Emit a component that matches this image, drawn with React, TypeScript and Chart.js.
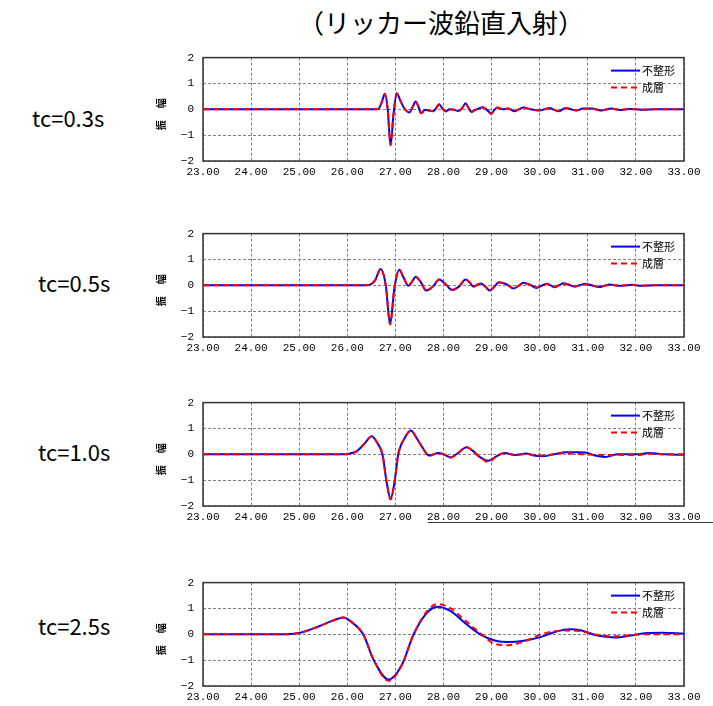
import React, { useEffect, useRef } from "react";
import { Chart, registerables } from "chart.js";

Chart.register(...registerables);

// ---------- text ----------
const TITLE = "（リッカー波鉛直入射）";
const SERIES_NAMES = ["不整形", "成層"];
const Y_AXIS_TITLE = ["振", "幅"];
const X_TICKS = [23, 24, 25, 26, 27, 28, 29, 30, 31, 32, 33];
const Y_TICKS = [-2, -1, 0, 1, 2];
const CASE_LABELS = ["tc=0.3s", "tc=0.5s", "tc=1.0s", "tc=2.5s"];

// ---------- tc = 0.3 s ----------
const tc03Time = [23, 26.55, 26.65, 26.72, 26.78, 26.84, 26.9, 26.96, 27.03, 27.1, 27.18, 27.29, 27.36, 27.42, 27.48, 27.53, 27.62, 27.7, 27.78, 27.85, 27.91, 27.97, 28.04, 28.13, 28.22, 28.31, 28.39, 28.46, 28.52, 28.58, 28.65, 28.72, 28.82, 28.9, 28.99, 29.06, 29.12, 29.23, 29.34, 29.48, 29.57, 29.66, 29.81, 29.99, 30.1, 30.21, 30.3, 30.39, 30.54, 30.65, 30.76, 30.9, 31.09, 31.27, 31.49, 31.67, 31.85, 32.0, 32.15, 32.4, 33];
const tc03Irregular = [0, 0, 0.02, 0.3, 0.6, 0.0, -1.4, -0.2, 0.62, 0.35, 0.05, -0.12, 0.1, 0.3, 0.1, -0.15, -0.02, -0.05, -0.08, 0.05, 0.2, 0.05, -0.08, 0.0, -0.02, -0.07, 0.05, 0.23, 0.05, -0.1, -0.03, 0.02, 0.08, -0.02, -0.15, -0.02, 0.07, 0.0, 0.03, -0.08, 0.0, 0.07, 0.0, -0.05, 0.0, 0.05, -0.02, -0.08, 0.05, 0.0, -0.05, 0.03, 0.03, -0.05, 0.03, -0.03, 0.01, 0.0, -0.02, 0.0, 0];
const tc03Layered = [0, 0, 0.02, 0.3, 0.58, 0.0, -1.38, -0.2, 0.6, 0.35, 0.05, -0.12, 0.1, 0.28, 0.1, -0.15, -0.02, -0.05, -0.08, 0.05, 0.2, 0.05, -0.08, 0.0, -0.02, -0.07, 0.05, 0.22, 0.05, -0.1, -0.03, 0.02, 0.07, -0.02, -0.18, -0.02, 0.06, 0.0, 0.03, -0.06, 0.0, 0.06, 0.0, -0.04, 0.0, 0.04, -0.02, -0.06, 0.04, 0.0, -0.04, 0.02, 0.02, -0.04, 0.02, -0.02, 0.0, 0.0, -0.01, 0.0, 0];

// ---------- tc = 0.5 s ----------
const tc05Time = [23, 26.4, 26.5, 26.58, 26.69, 26.8, 26.89, 26.98, 27.08, 27.17, 27.27, 27.35, 27.42, 27.52, 27.64, 27.78, 27.91, 28.04, 28.18, 28.32, 28.46, 28.55, 28.62, 28.7, 28.77, 28.87, 28.96, 29.06, 29.15, 29.3, 29.45, 29.56, 29.66, 29.8, 29.93, 30.04, 30.15, 30.23, 30.31, 30.4, 30.5, 30.61, 30.72, 30.83, 30.94, 31.08, 31.23, 31.35, 31.45, 31.67, 31.93, 32.1, 32.4, 33];
const tc05Irregular = [0, 0, 0.05, 0.2, 0.63, 0.0, -1.5, -0.1, 0.6, 0.3, -0.02, 0.15, 0.33, 0.15, -0.2, -0.05, 0.22, 0.05, -0.18, -0.05, 0.22, 0.1, -0.05, 0.02, 0.07, -0.05, -0.2, -0.05, 0.12, 0.05, -0.12, -0.02, 0.1, 0.02, -0.1, -0.02, 0.06, 0.0, -0.08, 0.0, 0.08, 0.02, -0.05, 0.0, 0.06, 0.0, -0.07, -0.02, 0.03, -0.02, 0.02, -0.02, 0.0, 0];
const tc05Layered = [0, 0, 0.05, 0.2, 0.63, 0.0, -1.52, -0.1, 0.6, 0.3, -0.02, 0.15, 0.32, 0.15, -0.2, -0.05, 0.22, 0.05, -0.17, -0.05, 0.22, 0.1, -0.05, 0.02, 0.07, -0.05, -0.2, -0.05, 0.11, 0.05, -0.1, -0.02, 0.08, 0.02, -0.08, -0.02, 0.05, 0.0, -0.06, 0.0, 0.05, 0.02, -0.04, 0.0, 0.04, 0.0, -0.05, -0.02, 0.02, -0.01, 0.01, -0.01, 0.0, 0];

// ---------- tc = 1.0 s ----------
const tc10Time = [23, 25.95, 26.1, 26.2, 26.35, 26.51, 26.62, 26.73, 26.82, 26.9, 26.98, 27.06, 27.2, 27.32, 27.45, 27.55, 27.7, 27.8, 27.89, 28.0, 28.15, 28.3, 28.48, 28.6, 28.75, 28.93, 29.1, 29.27, 29.49, 29.72, 29.88, 30.05, 30.3, 30.54, 30.75, 30.95, 31.15, 31.36, 31.63, 32.0, 32.28, 32.6, 33];
const tc10Irregular = [0, 0, 0.05, 0.12, 0.4, 0.7, 0.45, 0.0, -1.1, -1.72, -1.1, 0.0, 0.65, 0.92, 0.6, 0.3, -0.05, 0.0, 0.05, 0.0, -0.12, 0.05, 0.27, 0.15, -0.1, -0.25, -0.08, 0.05, -0.03, 0.03, -0.05, -0.08, 0.0, 0.08, 0.08, 0.07, -0.05, -0.1, 0.0, 0.0, 0.05, 0.0, -0.02];
const tc10Layered = [0, 0, 0.05, 0.12, 0.4, 0.7, 0.45, 0.0, -1.1, -1.75, -1.1, 0.0, 0.65, 0.92, 0.6, 0.3, -0.05, 0.0, 0.05, 0.0, -0.12, 0.05, 0.28, 0.15, -0.1, -0.3, -0.08, 0.05, -0.03, 0.02, -0.03, -0.05, 0.0, 0.05, 0.02, 0.0, -0.02, -0.03, -0.02, -0.03, 0.02, 0.0, 0];

// ---------- tc = 2.5 s ----------
const tc25Time = [23, 24.6, 25.0, 25.4, 25.8, 25.92, 26.07, 26.33, 26.55, 26.86, 27.13, 27.38, 27.64, 27.87, 28.15, 28.47, 28.76, 29.08, 29.35, 29.67, 30.03, 30.33, 30.62, 30.87, 31.2, 31.55, 31.89, 32.22, 32.55, 33];
const tc25Irregular = [0, 0, 0.05, 0.3, 0.6, 0.65, 0.5, 0.0, -1.0, -1.75, -1.2, 0.0, 0.8, 1.07, 0.9, 0.4, 0.0, -0.25, -0.3, -0.25, -0.1, 0.1, 0.2, 0.15, -0.05, -0.12, -0.05, 0.05, 0.06, 0.02];
const tc25Layered = [0, 0, 0.05, 0.3, 0.6, 0.65, 0.5, 0.0, -1.0, -1.8, -1.2, 0.0, 0.85, 1.17, 1.0, 0.5, 0.05, -0.38, -0.42, -0.28, 0.0, 0.12, 0.15, 0.12, -0.03, -0.08, -0.03, 0.0, 0.0, 0.0];

const CASES = [
  { label: CASE_LABELS[0], time: tc03Time, irregular: tc03Irregular, layered: tc03Layered },
  { label: CASE_LABELS[1], time: tc05Time, irregular: tc05Irregular, layered: tc05Layered },
  { label: CASE_LABELS[2], time: tc10Time, irregular: tc10Irregular, layered: tc10Layered },
  { label: CASE_LABELS[3], time: tc25Time, irregular: tc25Irregular, layered: tc25Layered },
];

// ---------- layout ----------
const PLOT_TOPS = [52, 228, 397, 577];
const PLOT_H = 109;
const CANVAS_LEFT = 140;
const CANVAS_W = 573;
const PAD_TOP = 10;
const X_AXIS_H = 20;
const Y_AXIS_W = 63;
const PAD_RIGHT = 29;
const LABEL_POS = [
  { left: 32, cy: 117 },
  { left: 38, cy: 282 },
  { left: 38, cy: 451 },
  { left: 38, cy: 625 },
];

const TICK_FONT = { family: "'Liberation Mono', 'DejaVu Sans Mono', monospace", size: 11 };
const JP_FONT = "'Noto Sans CJK JP', sans-serif";

const decorPlugin = {
  id: "decor",
  beforeDatasetsDraw(chart: any) {
    const { ctx, chartArea: a } = chart;
    ctx.save();
    ctx.strokeStyle = "#333";
    ctx.lineWidth = 1.5;
    ctx.setLineDash([]);
    ctx.strokeRect(a.left, a.top, a.right - a.left, a.bottom - a.top);
    ctx.restore();
  },
  afterDatasetsDraw(chart: any) {
    const { ctx, chartArea: a } = chart;
    ctx.save();
    // legend
    const x0 = a.right - 73;
    const x1 = a.right - 44;
    const ys = [a.top + 13, a.top + 30];
    ctx.lineWidth = 2;
    ctx.strokeStyle = "#0000ff";
    ctx.setLineDash([]);
    ctx.beginPath();
    ctx.moveTo(x0, ys[0]);
    ctx.lineTo(x1, ys[0]);
    ctx.stroke();
    ctx.strokeStyle = "#ff0000";
    ctx.setLineDash([6, 4]);
    ctx.beginPath();
    ctx.moveTo(x0, ys[1]);
    ctx.lineTo(x1, ys[1]);
    ctx.stroke();
    ctx.setLineDash([]);
    ctx.fillStyle = "#000";
    ctx.font = `11px ${JP_FONT}`;
    ctx.textAlign = "left";
    ctx.textBaseline = "middle";
    ctx.fillText(SERIES_NAMES[0], x1 + 2, ys[0]);
    ctx.fillText(SERIES_NAMES[1], x1 + 2, ys[1]);
    // y axis title
    const cx = 21;
    const cy = (a.top + a.bottom) / 2 + 5;
    ctx.font = `bold 10px ${JP_FONT}`;
    ctx.textAlign = "center";
    ctx.translate(cx, cy);
    ctx.rotate(-Math.PI / 2);
    ctx.fillText(Y_AXIS_TITLE[0], -11, 0);
    ctx.fillText(Y_AXIS_TITLE[1], 11, 0);
    ctx.restore();
  },
};

function WaveChart({ idx }: { idx: number }) {
  const ref = useRef<HTMLCanvasElement>(null);
  const c = CASES[idx];
  useEffect(() => {
    const toPts = (vals: number[]) => c.time.map((t, i) => ({ x: t, y: vals[i] }));
    const chart = new Chart(ref.current as HTMLCanvasElement, {
      type: "line",
      data: {
        datasets: [
          {
            label: SERIES_NAMES[1],
            data: toPts(c.layered),
            borderColor: "#ff0000",
            borderWidth: 2,
            borderDash: [6, 4],
            pointRadius: 0,
            cubicInterpolationMode: "monotone",
            order: 0,
          },
          {
            label: SERIES_NAMES[0],
            data: toPts(c.irregular),
            borderColor: "#0000ff",
            borderWidth: 2,
            pointRadius: 0,
            cubicInterpolationMode: "monotone",
            order: 1,
          },
        ],
      },
      options: {
        animation: false,
        responsive: false,
        events: [],
        layout: { padding: { top: PAD_TOP, right: PAD_RIGHT, left: 0, bottom: 0 } },
        plugins: { legend: { display: false }, tooltip: { enabled: false } },
        scales: {
          x: {
            type: "linear",
            min: 23,
            max: 33,
            afterBuildTicks: (s: any) => {
              s.ticks = X_TICKS.map((v) => ({ value: v }));
            },
            afterFit: (s: any) => {
              s.height = X_AXIS_H;
            },
            grid: { color: "#808080", lineWidth: 1, drawTicks: false },
            border: { display: false, dash: [3, 2] },
            ticks: {
              color: "#000",
              font: TICK_FONT,
              padding: 4,
              maxRotation: 0,
              autoSkip: false,
              callback: (v: any) => Number(v).toFixed(2),
            },
          },
          y: {
            type: "linear",
            min: -2,
            max: 2,
            afterBuildTicks: (s: any) => {
              s.ticks = Y_TICKS.map((v) => ({ value: v }));
            },
            afterFit: (s: any) => {
              s.width = Y_AXIS_W;
            },
            grid: { color: "#808080", lineWidth: 1, drawTicks: false },
            border: { display: false, dash: [3, 2] },
            ticks: {
              color: "#000",
              font: TICK_FONT,
              padding: 9,
              callback: (v: any) => (Number(v) < 0 ? "\u2212" + Math.abs(Number(v)) : String(v)),
            },
          },
        },
      },
      plugins: [decorPlugin],
    } as any);
    return () => chart.destroy();
  }, []);
  const h = PAD_TOP + PLOT_H + X_AXIS_H;
  return (
    <canvas
      ref={ref}
      width={CANVAS_W}
      height={h}
      style={{ position: "absolute", left: CANVAS_LEFT, top: PLOT_TOPS[idx] - PAD_TOP, width: CANVAS_W, height: h }}
    />
  );
}

export default function App() {
  return (
    <div
      style={{
        position: "absolute",
        left: 0,
        top: 0,
        width: 713,
        height: 706,
        overflow: "hidden",
        background: "#fff",
        fontFamily: JP_FONT,
      }}
    >
      <div
        style={{
          position: "absolute",
          left: 441,
          top: 6,
          transform: "translateX(-50%)",
          fontSize: 26,
          lineHeight: "32px",
          whiteSpace: "nowrap",
          color: "#000",
        }}
      >
        {TITLE}
      </div>
      {CASES.map((c, i) => (
        <div
          key={"l" + i}
          style={{
            position: "absolute",
            left: LABEL_POS[i].left,
            top: LABEL_POS[i].cy - 15,
            fontSize: 22,
            lineHeight: "30px",
            whiteSpace: "nowrap",
            color: "#000",
          }}
        >
          {c.label}
        </div>
      ))}
      {CASES.map((c, i) => (
        <WaveChart key={"c" + i} idx={i} />
      ))}
      <div style={{ position: "absolute", left: 428, top: 522, width: 285, height: 1, background: "#333" }} />
    </div>
  );
}
